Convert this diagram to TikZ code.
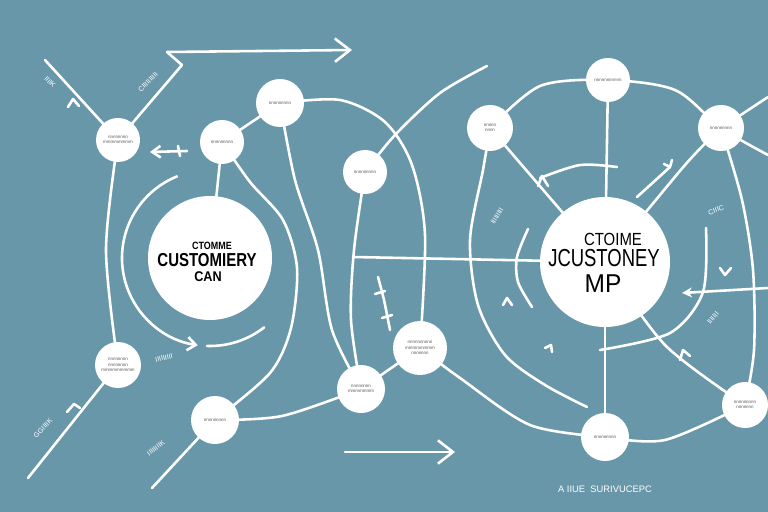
\documentclass[tikz,border=0pt]{standalone}
\usepackage{fontspec}
\setmainfont{Liberation Sans}
\usetikzlibrary{arrows.meta}
\definecolor{slate}{RGB}{104,151,170}
\definecolor{inkgray}{RGB}{85,85,85}
\pgfdeclarelayer{back}
\pgfdeclarelayer{edges}
\pgfsetlayers{back,edges,main}
\tikzset{
  bubble/.style={circle, fill=white, inner sep=0pt, align=center, text=inkgray, font=\fontsize{3.8}{4.6}\selectfont},
  hub/.style={circle, fill=white, inner sep=0pt, align=center, text=black},
  wire/.style={draw=white, line width=2.2pt, line cap=round, line join=round},
  tag/.style={text=white, font=\fontsize{6}{6}\selectfont},
  barb/.style={-{Straight Barb[length=4.5mm, width=7mm]}},
}
\begin{document}
\begin{tikzpicture}[x=0.03cm, y=-0.03cm]
\begin{pgfonlayer}{back}
\fill[slate] (0,0) rectangle (768,512);
\end{pgfonlayer}
\useasboundingbox (0,0) rectangle (768,512);
% left map
\node[hub, minimum size=3.72cm] (lmap) at (210,258) {};
\node[font=\fontsize{9}{9}\selectfont\bfseries, xscale=0.85] (lt1) at (212,246) {CTOMME};
\node[font=\fontsize{16}{16}\selectfont\bfseries, xscale=0.8] (lt2) at (207,260) {CUSTOMIERY};
\node[font=\fontsize{12}{12}\selectfont\bfseries, xscale=0.9] (lt3) at (208,277) {CAN};
\node[bubble, minimum size=1.32cm] (a) at (118,140) {nnnnnnnn\\mmmmmmmm};
\node[bubble, minimum size=1.38cm] (b) at (118,365) {nnnnnnnn\\nnnnnnnn\\mmmmmmmmm};
\node[bubble, minimum size=1.32cm] (c) at (222,142) {nnnnnnnnn};
\node[bubble, minimum size=1.44cm] (d) at (280,103) {nnnnnnnnn};
\node[bubble, minimum size=1.44cm] (e) at (215,420) {nnnnnnnnn};
\node[bubble, minimum size=1.44cm] (f) at (361,389) {nnnnnnnn\\mmmmmmm};
\node[bubble, minimum size=1.62cm] (g) at (420,348) {nnnnnnnnnn\\mmmmmmmm\\nnnnnnn};
\node[bubble, minimum size=1.32cm] (h) at (365,172) {nnnnnnnnn};
% right map
\node[hub, minimum size=3.9cm] (rmap) at (605,262) {};
\node[font=\fontsize{15}{15}\selectfont, xscale=0.85] (rt1) at (613,239) {CTOIME};
\node[font=\fontsize{21}{21}\selectfont, xscale=0.75] (rt2) at (604,258) {JCUSTONEY};
\node[font=\fontsize{22}{22}\selectfont, xscale=0.95] (rt3) at (603,284) {MP};
\node[bubble, minimum size=1.32cm] (t) at (608,80) {nnnnnnnnnnn};
\node[bubble, minimum size=1.38cm] (tl) at (490,128) {nnnnn\\nnnn};
\node[bubble, minimum size=1.38cm] (tr) at (721,128) {nnnnnnnnn};
\node[bubble, minimum size=1.38cm] (br) at (745,405) {nnnnnnnnn\\nnnnnnn};
\node[bubble, minimum size=1.44cm] (bt) at (605,437) {nnnnnnnnn};
% free labels
\node[tag, rotate=-45] (la) at (50,82) {IIIIK};
\node[tag, rotate=45] (lb) at (148,82) {CIIIIIIIIII};
\node[tag, rotate=12] (lc) at (164,358) {IIIIIIIII};
\node[tag, rotate=45] (ld) at (43,428) {GGIIIIK};
\node[tag, rotate=38] (le) at (156,448) {IIIIIIIIK};
\node[tag, rotate=58] (lf) at (497,216) {IIIIIIIII};
\node[tag, rotate=20] (lg) at (716,210) {CIIIC};
\node[tag, rotate=50] (lh) at (713,318) {IIIIIII};
\node[text=white, font=\fontsize{8}{8}\selectfont] (cap) at (605,489) {A IIUE \ SURIVUCEPC};
\begin{pgfonlayer}{edges}
% left side
\draw[wire] (45,60) -- (a.center);
\draw[wire] (68,107) -- (73,99) -- (79,106);
\draw[wire, barb] (a.center) -- (182,65) -- (167,52) -- (352,50);
\draw[wire, {Straight Barb[length=2.5mm, width=3.5mm]}-] (150,152) -- (187,151);
\draw[wire] (178,146) -- (180,156);
\draw[wire] plot[smooth] coordinates {(a.center) (106,250) (b.center)};
\draw[wire] (b.center) -- (28,478);
\draw[wire] (67,412) -- (74,404) -- (80,408);
\draw[wire] (e.center) -- (152,488);
\draw[wire] (c.center) -- (d.center);
\draw[wire] (c.center) -- (lmap.center);
% ring round the left map
\draw[wire, -{Straight Barb[length=2.5mm, width=4mm]}] (lmap.center) ++(248:88) arc[start angle=248, end angle=98, radius=88];
\draw[wire] (lmap.center) ++(92:88) arc[start angle=92, end angle=52, radius=88];
\draw[wire] plot[smooth] coordinates {(c.center) (250,182) (283,220) (297,268) (291,328) (270,373) (e.center)};
\draw[wire] plot[smooth] coordinates {(d.center) (295,180) (318,250) (332,330) (f.center)};
\draw[wire] plot[smooth] coordinates {(e.center) (282,416) (f.center)};
\draw[wire] plot[smooth] coordinates {(h.center) (354,250) (351,320) (f.center)};
\draw[wire] plot[smooth] coordinates {(h.center) (395,135) (440,93) (487,66)};
\draw[wire] plot[smooth] coordinates {(d.center) (340,100) (385,122) (412,165) (425,235) (g.center)};
\draw[wire] (g.center) -- (f.center);
\draw[wire] plot[smooth] coordinates {(g.center) (460,378) (530,425) (bt.center)};
\draw[wire] plot[smooth] coordinates {(378,277) (384,300) (390,330)};
\draw[wire] (375,294) -- (385,291);
\draw[wire] (382,318) -- (392,315);
\draw[wire, barb] (345,452) -- (455,452);
\draw[wire] (353,257) -- (rmap.center);
% right side
\draw[wire] plot[smooth] coordinates {(tl.center) (540,86) (t.center) (675,90) (tr.center) (768,155)};
\draw[wire] (tr.center) -- (768,97);
\draw[wire] (t.center) -- (rmap.center);
\draw[wire] (tl.center) -- (rmap.center);
\draw[wire] plot[smooth] coordinates {(tr.center) (685,165) (rmap.center)};
\draw[wire] plot[smooth] coordinates {(tr.center) (742,200) (753,270) (754,350) (br.center)};
\draw[wire] plot[smooth] coordinates {(br.center) (665,440) (bt.center)};
\draw[wire] (bt.center) -- (rmap.center);
\draw[wire] plot[smooth] coordinates {(rmap.center) (665,345) (br.center)};
\draw[wire] plot[smooth] coordinates {(706,228) (703,292) (670,333) (600,350)};
\draw[wire, -{Stealth[length=3mm, width=3mm]}] (768,288) -- (682,293);
\draw[wire] plot[smooth] coordinates {(tl.center) (483,170) (470,240) (478,305) (505,355) (545,385) (587,407)};
\draw[wire] plot[smooth] coordinates {(528,229) (517,257) (518,282) (532,307)};
\draw[wire] plot[smooth] coordinates {(540,178) (580,165) (617,167)};
\draw[wire] (670,167) -- (637,197);
\draw[wire] (664,164) -- (670,167) -- (672,160);
\draw[wire] (538,186) -- (542,176) -- (548,186);
\draw[wire] (720,268) -- (725,275) -- (731,268);
\draw[wire] (680,360) -- (683,350) -- (690,356);
\draw[wire] (503,305) -- (507,298) -- (512,305);
\draw[wire] (545,348) -- (551,345) -- (552,352);
\end{pgfonlayer}
\end{tikzpicture}
\end{document}
